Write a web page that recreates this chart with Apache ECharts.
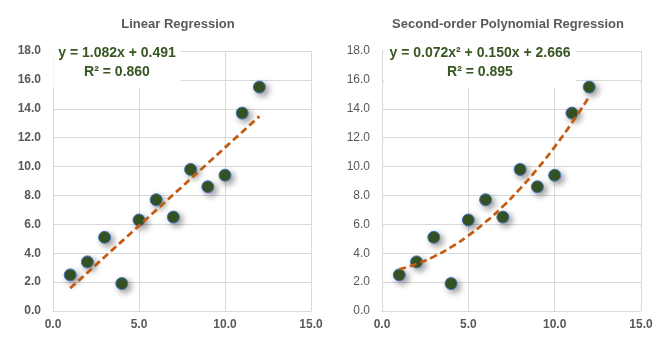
<!DOCTYPE html>
<html><head><meta charset="utf-8">
<script src="https://cdn.jsdelivr.net/npm/echarts@6/dist/echarts.min.js"></script>
<style>html,body{margin:0;padding:0;background:#fff}#c{width:659px;height:348px}</style>
</head><body><div id="c"></div>
<script>
const xValues = [1,2,3,4,5,6,7,8,9,10,11,12];
const yValues = [2.5,3.4,5.1,1.9,6.3,7.7,6.5,9.8,8.6,9.4,13.7,15.5];
// trend line values as shown by the chart's fitted lines
const linearTrend = [1.573,2.655,3.737,4.819,5.901,6.983,8.065,9.147,10.229,11.311,12.393,13.475];
const polyTrend = [2.888,3.254,3.764,4.418,5.216,6.158,7.244,8.474,9.848,11.366,13.028,14.834];
const titles = ['Linear Regression','Second-order Polynomial Regression'];
const equations = ['y = 1.082x + 0.491\nR² = 0.860','y = 0.072x² + 0.150x + 2.666\nR² = 0.895'];
const xTicks = {min:0,max:15,interval:5};
const yTicks = {min:0,max:18,interval:2};

const pts = xValues.map((x,i)=>[x,yValues[i]]);
const lin = xValues.map((x,i)=>[x,linearTrend[i]]);
const poly = xValues.map((x,i)=>[x,polyTrend[i]]);

const FONT = 'Liberation Sans';
const grids = [{left:53,top:51,width:258,height:260},{left:382,top:51,width:259,height:260}];
const gridColor = '#D9D9D9';
function xAxis(i){return {type:'value',gridIndex:i,min:xTicks.min,max:xTicks.max,interval:xTicks.interval,
  axisLine:{show:true,lineStyle:{color:gridColor}},axisTick:{show:false},
  splitLine:{show:true,lineStyle:{color:gridColor}},
  axisLabel:{color:'#595959',fontFamily:FONT,fontSize:12,fontWeight:'bold',margin:8,formatter:v=>v.toFixed(1)}};}
function yAxis(i,bold){return {type:'value',gridIndex:i,min:yTicks.min,max:yTicks.max,interval:yTicks.interval,
  axisLine:{show:true,lineStyle:{color:gridColor}},axisTick:{show:false},
  splitLine:{show:true,lineStyle:{color:gridColor}},
  axisLabel:{color:'#595959',fontFamily:FONT,fontSize:12,fontWeight:bold?'bold':'normal',margin:12,formatter:v=>v.toFixed(1)}};}
function scatter(i){return {type:'scatter',xAxisIndex:i,yAxisIndex:i,data:pts,symbolSize:12,z:2,
  itemStyle:{color:'#375623',opacity:1,borderColor:'#4472C4',borderWidth:1,shadowBlur:6,shadowOffsetX:3,shadowOffsetY:3,shadowColor:'rgba(0,0,0,0.4)'}};}
function trend(i,data,smooth){return {type:'line',xAxisIndex:i,yAxisIndex:i,data:data,smooth:smooth,showSymbol:false,z:3,
  lineStyle:{color:'#C55A11',width:2.75,type:[7,4]}};}

const chart = echarts.init(document.getElementById('c'),null,{renderer:'canvas'});
chart.setOption({
  animation:false,
  backgroundColor:'#fff',
  title:[
    {text:titles[0],left:173,top:13,textAlign:'center',textStyle:{fontFamily:FONT,fontSize:13,fontWeight:'bold',color:'#595959'}},
    {text:titles[1],left:503,top:13,textAlign:'center',textStyle:{fontFamily:FONT,fontSize:13,fontWeight:'bold',color:'#595959'}},
    {text:equations[0],left:112,top:41,textAlign:'center',backgroundColor:'#fff',padding:[3,5,6,5],
      textStyle:{fontFamily:FONT,fontSize:14,fontWeight:'bold',color:'#375623',lineHeight:19,align:'center'}},
    {text:equations[1],left:475,top:41,textAlign:'center',backgroundColor:'#fff',padding:[3,5,6,5],
      textStyle:{fontFamily:FONT,fontSize:14,fontWeight:'bold',color:'#375623',lineHeight:19,align:'center'}}
  ],
  grid:grids,
  xAxis:[xAxis(0),xAxis(1)],
  yAxis:[yAxis(0,true),yAxis(1,false)],
  series:[scatter(0),trend(0,lin,false),scatter(1),trend(1,poly,true)]
});
</script></body></html>
